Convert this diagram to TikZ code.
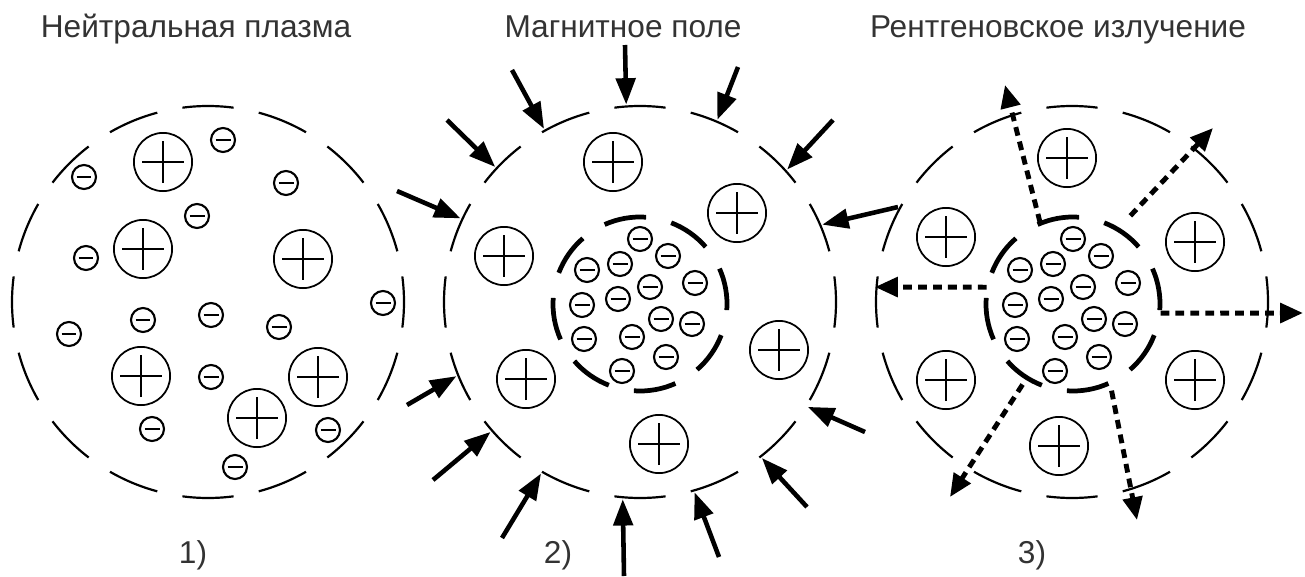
\documentclass[tikz,border=0pt]{standalone}
\usepackage{fontspec}
\setmainfont{Liberation Sans}
\usetikzlibrary{arrows.meta}
\tikzstyle{cloud}=[circle,minimum size=7.92cm,inner sep=0pt,outer sep=0pt]
\tikzstyle{core}=[circle,minimum size=3.52cm,inner sep=0pt,outer sep=0pt]
\tikzstyle{rim}=[draw,line width=1.25pt]
\tikzstyle{core rim}=[draw,line width=2.7pt]
\tikzstyle{ion}=[circle,draw,line width=1pt,minimum size=1.165cm,inner sep=0pt,
    path picture={\draw[line width=1pt] ([xshift=-0.42cm]path picture bounding box.center) -- ([xshift=0.42cm]path picture bounding box.center);
                  \draw[line width=1pt] ([yshift=-0.42cm]path picture bounding box.center) -- ([yshift=0.42cm]path picture bounding box.center);}]
\tikzstyle{electron}=[circle,draw,line width=1.2pt,minimum size=0.48cm,inner sep=0pt,
    path picture={\draw[line width=1.7pt] ([xshift=-0.15cm]path picture bounding box.center) -- ([xshift=0.15cm]path picture bounding box.center);}]
\tikzstyle{field}=[draw,line width=2.6pt,-{Triangle[length=15pt,width=11pt]}]
\tikzstyle{xray}=[draw,line width=2.8pt,dash pattern=on 5pt off 3.5pt,-{Triangle[length=13pt,width=11pt]}]
\tikzstyle{caption}=[font=\fontsize{18}{21}\selectfont,text=black!80,anchor=base]

\begin{document}
\begin{tikzpicture}[x=0.02cm,y=0.02cm]
    \useasboundingbox (0,0) rectangle (1305,576);

    % Clouds and cores
    \foreach \pos/\name in {{(208,274)/P1}, {(640,274)/P2}, {(1072,274)/P3}}
        \node[cloud] (\name) at \pos {};
    \foreach \pos/\name in {{(640,272)/C2}, {(1073,272)/C3}}
        \node[core] (\name) at \pos {};

    % Dashed borders
    \foreach \name in {P1,P2,P3}
        \foreach \a in {-7.5,15,...,330}
            \path[rim] (\name.center) ++(\a:196) arc[start angle=\a, delta angle=15, radius=196];
    \foreach \name in {C2,C3}
        \foreach \a in {-4,41,...,311}
            \path[core rim] (\name.center) ++(\a:87) arc[start angle=\a, delta angle=28, radius=87];

    % Ions
    \foreach \pos/\name in {{(163,414)/a1}, {(143,327)/a2}, {(303,317)/a3},
                            {(141,200)/a4}, {(318,199)/a5}, {(257,158)/a6},
                            {(613,414)/b1}, {(737,363)/b2}, {(504,320)/b3},
                            {(526,197)/b4}, {(779,226)/b5}, {(659,132)/b6},
                            {(1067,418)/c1}, {(946,339)/c2}, {(1195,334)/c3},
                            {(946,196)/c4}, {(1195,196)/c5}, {(1059,130)/c6}}
        \node[ion] (\name) at \pos {};

    % Electrons, neutral plasma
    \foreach \x/\y [count=\i] in {223/436, 84/399, 286/393, 197/360, 86/318, 383/273, 69/242,
                                  143/256, 211/261, 279/249, 211/199, 152/147, 328/146, 235/109}
        \node[electron] (e1\i) at (\x,\y) {};

    % Electrons, compressed cores
    \foreach \name in {C2,C3}
        \foreach \dx/\dy [count=\i] in {0/65, 28/48, -20/40, -53/34, 55/21, 10/17, -22/5,
                                        -58/-1, 21/-15, 52/-20, -56/-35, -8/-33, 26/-53, -18/-67}
            \node[electron] (e\name\i) at ([shift={(\dx,\dy)}]\name.center) {};

    % Magnetic field
    \foreach \a/\x/\y [count=\i] in {94/625/531, 119/512/506, 137/447/456, 155.5/397/385,
                                     202/407/171, 221/433/96, 240.5/502/38, 265/624/0,
                                     286/719/19, 308/807/69, 328/865/144, 23.5/898/369,
                                     42.6/833/456, 67.4/738/509}
    {
        \coordinate (m\i) at (\x,\y);
        \path[field] (m\i) -- (P2.\a);
    }

    % X-ray emission
    \foreach \a/\x/\y/\s [count=\i] in {112/1005/491/0pt, 59/1213/448/10pt, 169/875/289/0pt,
                                        354/1303/263/0pt, 238/950/79/4pt, 295/1137/56/4pt}
    {
        \coordinate (r\i) at (\x,\y);
        \path[xray, shorten <=\s] (C3.\a) -- (r\i);
    }

    % Captions
    \node[caption] (t1) at (196,539) {Нейтральная плазма};
    \node[caption] (t2) at (623,539) {Магнитное поле};
    \node[caption] (t3) at (1058,539) {Рентгеновское излучение};
    \node[caption] (n1) at (193,13) {1)};
    \node[caption] (n2) at (558,13) {2)};
    \node[caption] (n3) at (1032,13) {3)};
\end{tikzpicture}
\end{document}
